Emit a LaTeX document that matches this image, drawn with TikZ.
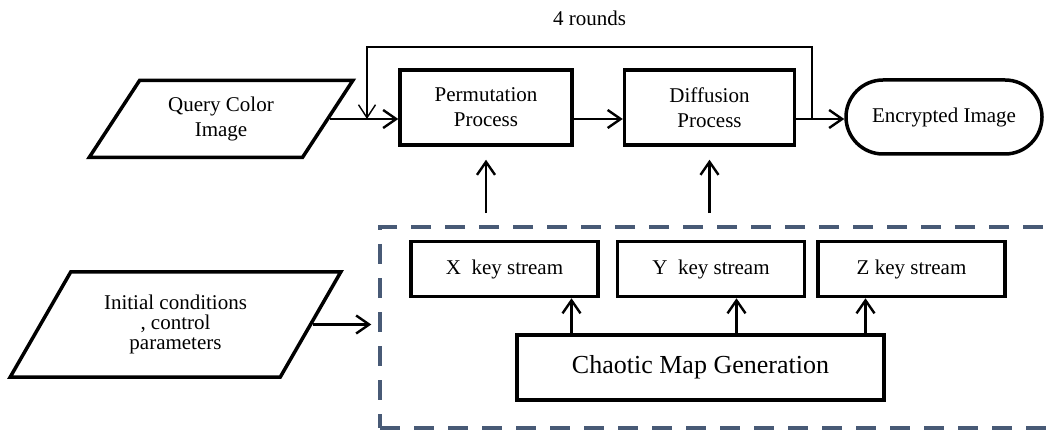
\documentclass[tikz,border=0pt]{standalone}
\usepackage{fontspec}
\setmainfont{Liberation Serif}
\usepackage{tikz}
\usetikzlibrary{shapes.geometric, shapes.misc, arrows.meta, positioning}
\definecolor{dashblue}{RGB}{72,90,118}
\tikzset{
    base/.style={draw=black, line width=3.5pt, font=\fontsize{21}{25}\selectfont, align=center, inner sep=4pt},
    block/.style={base, rectangle, fill=white},
    keyblock/.style={base, rectangle, minimum width=187pt, minimum height=55pt},
    datablock/.style={base, trapezium, trapezium stretches=true},
    termblock/.style={base, rounded rectangle},
    line/.style={draw=black, line width=2.4pt, -{Straight Barb[length=13pt, width=18pt]}},
    thin-line/.style={draw=black, line width=1.4pt, -{Straight Barb[length=13pt, width=17pt]}}
}

\begin{document}
\begin{tikzpicture}[x=1pt, y=-1pt]
    \useasboundingbox (0,0) rectangle (1048,435);
    \node [draw=dashblue, line width=3.5pt, dash pattern=on 20pt off 14pt, minimum width=690pt, minimum height=201pt] (keygen) at (725,327.5) {};
    \node [datablock, trapezium left angle=56, trapezium right angle=124, minimum width=264pt, minimum height=77pt] (query) at (221,119) {Query Color\\Image};
    \node [block, minimum width=172pt, minimum height=75pt] (perm) at (486,107.5) {Permutation\\Process};
    \node [block, minimum width=170pt, minimum height=75pt, right=49pt of perm] (diff) {Diffusion\\Process};
    \node [termblock, minimum width=204pt, minimum height=74pt] (enc) at (944,117) {Encrypted Image};
    \node [datablock, trapezium left angle=57, trapezium right angle=123, minimum width=331pt, minimum height=105pt, font=\fontsize{21}{20}\selectfont] (init) at (175.5,324.5) {Initial conditions\\, control\\parameters};
    \node [keyblock] (xkey) at (504.5,269) {X~ key stream};
    \node [keyblock, right=16pt of xkey] (ykey) {Y~ key stream};
    \node [keyblock, right=10pt of ykey] (zkey) {Z key stream};
    \node [block, minimum width=367pt, minimum height=65pt, font=\fontsize{26}{30}\selectfont] (chaos) at (700.5,367.5) {Chaotic Map Generation};
    \draw [line] (query.east) -- (query.east -| perm.west);
    \draw [line] (perm.east |- query.east) -- (diff.west |- query.east);
    \draw [line] (diff.east |- query.east) -- (enc.west |- query.east);
    \coordinate (fbout) at (812,119);
    \coordinate (fbin) at (367,119);
    \draw [thin-line] (fbout) -- ++(0,-72) -| node [pos=0.25, above=17pt, font=\fontsize{21}{24}\selectfont] (rounds) {4 rounds} (fbin);
    \draw [line, shorten <=12pt, shorten >=13pt] (keygen.north -| perm.south) -- (perm.south);
    \draw [line, shorten <=12pt, shorten >=13pt] (keygen.north -| diff.south) -- (diff.south);
    \coordinate (xa) at ([xshift=-129pt]chaos.north);
    \coordinate (ya) at ([xshift=36pt]chaos.north);
    \coordinate (za) at ([xshift=165pt]chaos.north);
    \draw [line] (xa) -- (xa |- xkey.south);
    \draw [line] (ya) -- (ya |- ykey.south);
    \draw [line] (za) -- (za |- zkey.south);
    \draw [line, shorten >=7pt] (init.east) -- (init.east -| keygen.west);
\end{tikzpicture}
\end{document}
